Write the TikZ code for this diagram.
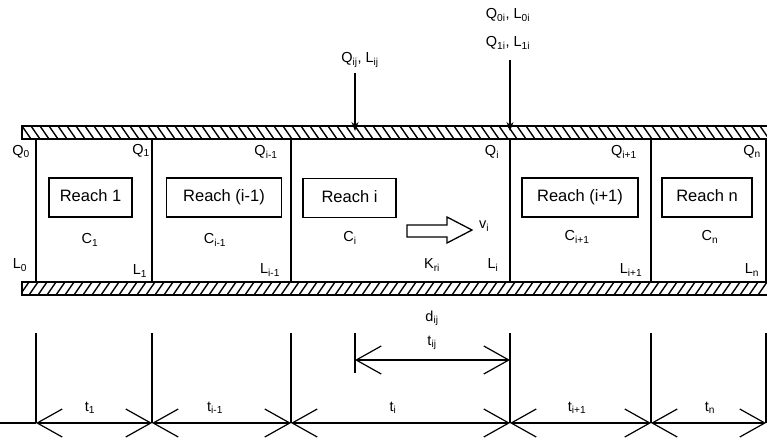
\documentclass[tikz,border=0pt]{standalone}
\usepackage{fontspec}
\setmainfont{Liberation Sans}
\usetikzlibrary{arrows.meta}
\tikzset{
  wall/.style={draw, line width=1.2pt, minimum height=13pt, inner sep=0pt},
  hatchdown/.style={path picture={
      \foreach \k in {0,9,...,800}
        \draw[line width=1.4pt] ([xshift=\k pt]path picture bounding box.south west) -- ++(-9pt,13pt);}},
  hatchup/.style={path picture={
      \foreach \k in {-20,-11,...,800}
        \draw[line width=1.4pt] ([xshift=\k pt]path picture bounding box.south west) -- ++(9pt,13pt);}},
  cellline/.style={line width=1.3pt},
  reachbox/.style={draw, line width=1.3pt, minimum height=39pt, inner sep=0pt, text height=12pt, text depth=3.5pt, font=\fontsize{16.5}{18}\selectfont},
  lab/.style={inner sep=0pt, font=\fontsize{14.5}{16}\selectfont},
  dimtip/.style={line width=1.2pt, {Straight Barb[length=25pt,width=28pt]}-{Straight Barb[length=25pt,width=28pt]}},
  inflow/.style={line width=1.3pt, -{Stealth[length=9pt,width=7pt]}},
}
\begin{document}
\begin{tikzpicture}[x=1pt,y=-1pt]
\useasboundingbox[fill=white] (0,0) rectangle (767,437);

% walls
\node[wall, hatchdown, minimum width=760pt] (topwall) at (402,132.5) {};
\node[wall, hatchup, minimum width=760pt] (botwall) at (402,288.5) {};

% cell boundaries
\foreach \n/\x in {a/36,b/152,c/291,d/510,e/651,f/766}{
  \coordinate (\n t) at (\x,139);
  \coordinate (\n b) at (\x,282);
  \coordinate (\n u) at (\x,333);
  \coordinate (\n d) at (\x,423);
}
\foreach \n in {a,b,c,d,e,f}{
  \draw[cellline] (\n t) -- (\n b);
  \draw[cellline] (\n u) -- (\n d);
}

% reach boxes
\node[reachbox, minimum width=83pt] (r1) at (90.5,197.5) {Reach 1};
\node[reachbox, minimum width=115pt] (r2) at (224,197.5) {Reach (i-1)};
\node[reachbox, minimum width=93pt] (r3) at (349.5,198) {Reach i};
\node[reachbox, minimum width=116pt] (r4) at (580,197.5) {Reach (i+1)};
\node[reachbox, minimum width=90pt] (r5) at (707,197.5) {Reach n};

% labels in cells
\node[lab] (q0) at (21,152) {Q\textsubscript{0}};
\node[lab] (l0) at (20,265) {L\textsubscript{0}};
\node[lab] (q1) at (141,151) {Q\textsubscript{1}};
\node[lab] (l1) at (140,271) {L\textsubscript{1}};
\node[lab] (qim) at (266,152) {Q\textsubscript{i-1}};
\node[lab] (lim) at (270,270) {L\textsubscript{i-1}};
\node[lab] (qi) at (492,152) {Q\textsubscript{i}};
\node[lab] (li) at (493,265) {L\textsubscript{i}};
\node[lab] (qip) at (624,152) {Q\textsubscript{i+1}};
\node[lab] (lip) at (631,270) {L\textsubscript{i+1}};
\node[lab] (qn) at (752,152) {Q\textsubscript{n}};
\node[lab] (ln) at (752,270) {L\textsubscript{n}};
\node[lab] (c1) at (90,240) {C\textsubscript{1}};
\node[lab] (cim) at (215,240) {C\textsubscript{i-1}};
\node[lab] (ci) at (350,238) {C\textsubscript{i}};
\node[lab] (cip) at (577,237) {C\textsubscript{i+1}};
\node[lab] (cn) at (710,237) {C\textsubscript{n}};
\node[lab] (kri) at (432,265) {K\textsubscript{ri}};
\node[lab] (vi) at (484,226) {v\textsubscript{i}};

% velocity block arrow
\draw[line width=1.3pt, fill=white] (407,225) -- (447,225) -- (447,217) -- (472,230) -- (447,243) -- (447,237) -- (407,237) -- cycle;

% lateral inflows
\node[lab] (lqij) at (360,60) {Q\textsubscript{ij}, L\textsubscript{ij}};
\node[lab] (lq0i) at (508,15) {Q\textsubscript{0i}, L\textsubscript{0i}};
\node[lab] (lq1i) at (508,43) {Q\textsubscript{1i}, L\textsubscript{1i}};
\coordinate (in1s) at (355,73);
\coordinate (in1e) at (355,131);
\coordinate (in2s) at (510,60);
\coordinate (in2e) at (510,131);
\draw[inflow] (in1s) -- (in1e);
\draw[inflow] (in2s) -- (in2e);

% travel time dimension
\coordinate (tijs) at (355,360);
\coordinate (tijtop) at (355,333);
\coordinate (tijbot) at (355,373);
\coordinate (tije) at (510,360);
\draw[cellline] (tijtop) -- (tijbot);
\draw[dimtip] (tijs) -- (tije);
\node[lab] (dij) at (432,318) {d\textsubscript{ij}};
\node[lab] (tij) at (432,343) {t\textsubscript{ij}};

% bottom dimension line
\coordinate (lineleft) at (0,423);
\draw[line width=1.2pt] (lineleft) -- (ad);
\draw[dimtip] (ad) -- (bd);
\draw[dimtip] (bd) -- (cd);
\draw[dimtip] (cd) -- (dd);
\draw[dimtip] (dd) -- (ed);
\draw[dimtip] (ed) -- (fd);
\node[lab] (t1) at (90,408) {t\textsubscript{1}};
\node[lab] (tim) at (215,408) {t\textsubscript{i-1}};
\node[lab] (ti) at (393,408) {t\textsubscript{i}};
\node[lab] (tip) at (577,408) {t\textsubscript{i+1}};
\node[lab] (tn) at (710,408) {t\textsubscript{n}};
\end{tikzpicture}
\end{document}
